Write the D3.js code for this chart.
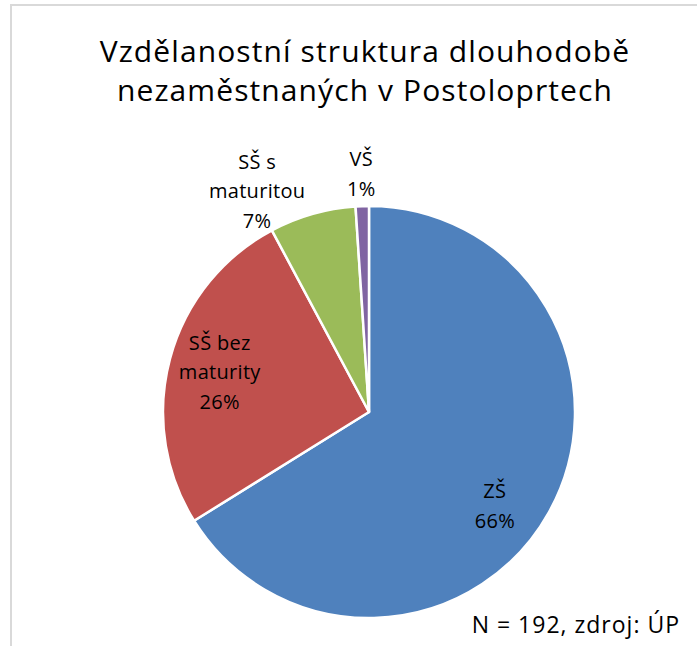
<!DOCTYPE html>
<html>
<head>
<meta charset="utf-8">
<script src="https://cdn.jsdelivr.net/npm/d3@7"></script>
<style>
  body { margin: 0; background: #fff; }
  svg { display: block; }
  text { font-family: "Open Sans", Lato, sans-serif; fill: #000; }
</style>
</head>
<body>
<div class="chart-area"></div>
<script>
// data (N = 192)
const categories = ["ZŠ", "SŠ bez maturity", "SŠ s maturitou", "VŠ"];
const counts = [127, 50, 13, 2];
const percents = [66, 26, 7, 1];
const labelLines = [["ZŠ"], ["SŠ bez", "maturity"], ["SŠ s", "maturitou"], ["VŠ"]];
const colors = ["#4F81BD", "#C0504D", "#9BBB59", "#8064A2"];
const titleLines = ["Vzdělanostní struktura dlouhodobě", "nezaměstnaných v Postoloprtech"];
const note = "N = 192, zdroj: ÚP";

const width = 697, height = 646;
const cx = 369, cy = 412, r = 206;

// label placement: radius factor of r, plus a small nudge (like excel's best fit)
const labelPos = [
  {k: 0.76, dx: -11, dy: 18},
  {k: 0.75, dx: 0, dy: 0},
  {k: 1.2, dx: -44, dy: 17},
  {k: 1.155, dx: 0, dy: 0}
];

const svg = d3.select(".chart-area").append("svg")
  .attr("width", width)
  .attr("height", height);

// chart frame (only top and left edge visible in the crop)
svg.append("rect")
  .attr("x", 11).attr("y", 5)
  .attr("width", 900).attr("height", 900)
  .attr("fill", "none")
  .attr("stroke", "#d9d9d9")
  .attr("stroke-width", 2);

svg.append("text")
  .attr("x", 365)
  .attr("y", 62)
  .attr("text-anchor", "middle")
  .style("font-size", "30px")
  .style("letter-spacing", "1.1px")
  .selectAll("tspan")
  .data(titleLines)
  .join("tspan")
  .attr("x", 365)
  .attr("dy", (d, i) => i === 0 ? 0 : 39)
  .text(d => d);

const data = categories.map((c, i) => ({
  name: c, count: counts[i], pct: percents[i], lines: labelLines[i], color: colors[i], pos: labelPos[i]
}));

const pie = d3.pie().sort(null).value(d => d.count);
const arc = d3.arc().innerRadius(0).outerRadius(r);
const arcs = pie(data);

const g = svg.append("g").attr("transform", `translate(${cx},${cy})`);

g.selectAll("path")
  .data(arcs)
  .join("path")
  .attr("d", arc)
  .attr("fill", d => d.data.color)
  .attr("stroke", "#fff")
  .attr("stroke-width", 2.5)
  .attr("stroke-linejoin", "round");

const lineH = 29.5;
const labels = g.selectAll("text.lbl")
  .data(arcs)
  .join("text")
  .attr("class", "lbl")
  .attr("text-anchor", "middle")
  .style("font-size", "20px")
  .style("letter-spacing", "0.3px")
  .attr("transform", d => {
    const p = d.data.pos;
    const la = d3.arc().innerRadius(r * p.k).outerRadius(r * p.k);
    const [x, y] = la.centroid(d);
    return `translate(${x + p.dx},${y + p.dy})`;
  });

labels.each(function(d) {
  const lines = d.data.lines.concat([d.data.pct + "%"]);
  const t = d3.select(this);
  const top = -(lines.length - 1) * lineH / 2;
  lines.forEach((l, i) => {
    t.append("tspan")
      .attr("x", 0)
      .attr("y", top + i * lineH)
      .attr("dy", "0.35em")
      .text(l);
  });
});

svg.append("text")
  .attr("x", 680)
  .attr("y", 633)
  .attr("text-anchor", "end")
  .style("font-size", "23px")
  .style("letter-spacing", "1px")
  .text(note);
</script>
</body>
</html>
